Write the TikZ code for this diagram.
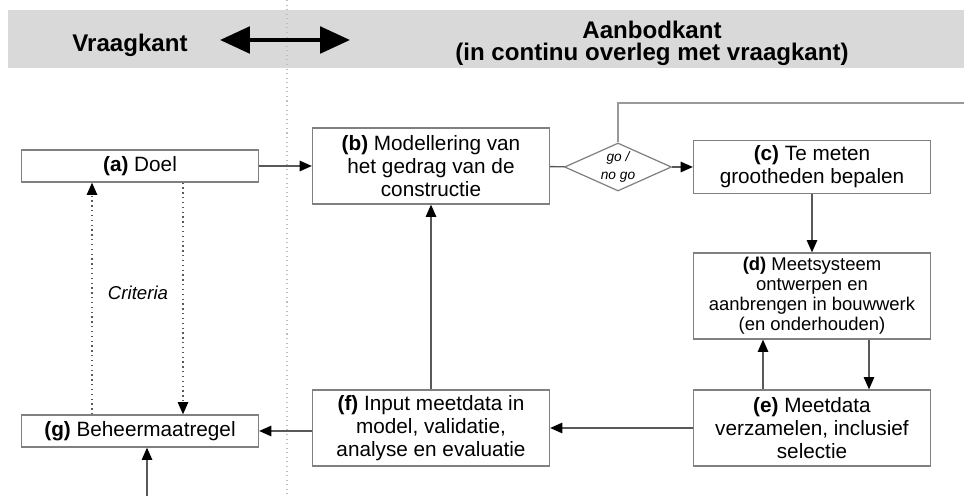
\documentclass[tikz,border=0pt]{standalone}
\usepackage{fontspec}
\setmainfont{Liberation Sans}
\usetikzlibrary{arrows.meta,shapes.geometric,calc,positioning}

\tikzset{
  stap/.style={draw=gray, line width=0.75pt, fill=white, inner sep=0pt,
               minimum width=4.74cm, align=center, font=\fontsize{11.8}{13}\selectfont},
  keuze/.style={diamond, draw=gray, line width=0.7pt, inner sep=0pt, aspect=2.2,
                minimum width=2.14cm, minimum height=0.96cm, align=center,
                font=\fontsize{7.8}{10}\selectfont\itshape},
  pijl/.style={draw=gray!70!black, line width=0.75pt, -{Triangle[length=7pt,width=6pt,black]}},
  lijn/.style={draw=gray!70!black, line width=0.75pt},
  stip/.style={draw=gray!70!black, line width=0.75pt, dotted, -{Triangle[length=7pt,width=6pt,black]}},
}

\begin{document}
\begin{tikzpicture}[x=0.02cm, y=-0.02cm]
  \useasboundingbox (0,0) rectangle (964,496);
  % Header
  \fill[gray!30] (8,10) rectangle (964,68);
  \draw[gray!50, dotted, line width=0.6pt] (287,0) -- (287,496);
  \node (vraag) at (130,45) {\fontsize{13.7}{12.5}\selectfont\bfseries Vraagkant};
  \node[align=center, font=\fontsize{13.7}{12.5}\selectfont\bfseries] (aanbod) at (652,43)
    {Aanbodkant\\(in continu overleg met vraagkant)};
  \coordinate (hL) at (220,40);
  \coordinate (hR) at (350,40);
  \draw[line width=2.4pt, {Triangle[length=17pt,width=15pt]}-{Triangle[length=17pt,width=15pt]}] (hL) -- (hR);

  % Steps
  \node[stap, minimum height=0.64cm] (a) at (140,166) {\textbf{(a)} Doel};
  \node[stap, minimum height=1.52cm] (b) at (431,166) {\textbf{(b)} Modellering van\\het gedrag van de\\constructie};
  \node[keuze] (k) at (618,167) {go /\\no go};
  \node[stap, minimum height=1.06cm] (c) at (812,167) {\textbf{(c)} Te meten\\grootheden bepalen};
  \node[stap, minimum height=1.72cm, font=\fontsize{10.5}{11.3}\selectfont] (d) at (812,296)
    {\textbf{(d)} Meetsysteem\\ontwerpen en\\aanbrengen in bouwwerk\\(en onderhouden)};
  \node[stap, minimum height=1.52cm] (e) at (812,428) {\textbf{(e)} Meetdata\\verzamelen, inclusief\\selectie};
  \node[stap, minimum height=1.52cm] (f) at (431,428) {\textbf{(f)} Input meetdata in\\model, validatie,\\analyse en evaluatie};
  \node[stap, minimum height=0.64cm] (g) at (140,431) {\textbf{(g)} Beheermaatregel};
  \node[font=\fontsize{10.6}{12}\selectfont\itshape] (crit) at (138,293) {Criteria};

  % Helper points
  \coordinate (top) at (618,103);
  \coordinate (topR) at (964,103);
  \coordinate (bot) at (147,496);
  \coordinate (crL) at (92,0);
  \coordinate (crR) at (183,0);
  \coordinate (dL) at (763,0);
  \coordinate (dR) at (869,0);

  % Connectors
  \draw[pijl] (a) -- (b);
  \draw[lijn] (b) -- (k);
  \draw[pijl] (k) -- (c);
  \draw[lijn, draw=gray!80] (k.north) -- (top) -- (topR);
  \draw[pijl] (c) -- (d);
  \draw[pijl] (dR |- d.south) -- (dR |- e.north);
  \draw[pijl] (dL |- e.north) -- (dL |- d.south);
  \draw[pijl] (e) -- (f);
  \draw[pijl] (f) -- (b);
  \draw[pijl] (f.west |- g.east) -- (g.east);
  \draw[pijl] (bot) -- (bot |- g.south);
  \draw[stip] (crL |- g.north) -- (crL |- a.south);
  \draw[stip] (crR |- a.south) -- (crR |- g.north);
\end{tikzpicture}
\end{document}
